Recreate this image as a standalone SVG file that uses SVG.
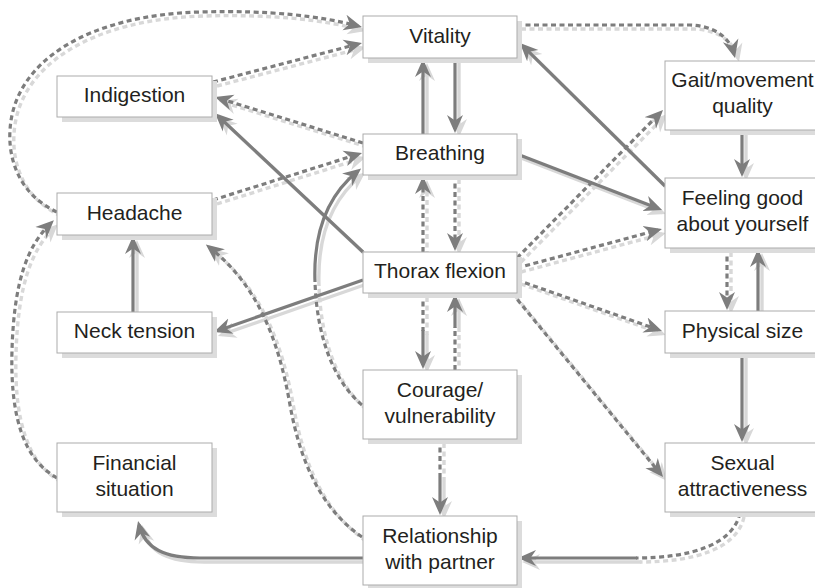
<svg xmlns="http://www.w3.org/2000/svg" xmlns:xlink="http://www.w3.org/1999/xlink" width="815" height="588" viewBox="0 0 815 588">
<style>
.box rect.bg{fill:#ffffff;stroke:#ababab;stroke-width:1}
.box rect.sh{fill:#dcdcdc;stroke:none}
.box text{font-family:"Liberation Sans",Arial,Helvetica,sans-serif;font-size:21px;fill:#231f20;text-anchor:middle}
.dark{stroke:#7d7d7d;stroke-width:3.2;fill:none;marker-end:url(#aD)}
.light{stroke:#d8d8d8;stroke-width:3.4;fill:none;marker-end:url(#aL)}
.d{stroke-dasharray:5 3.5}
</style>
<defs>
<marker id="aD" markerUnits="userSpaceOnUse" markerWidth="19" markerHeight="17" viewBox="0 0 19 17" refX="14" refY="8.5" orient="auto">
<path d="M0,0.5 L18,8.5 L0,16.5 L5.5,8.5 Z" fill="#7d7d7d" stroke="none"/>
</marker>
<marker id="aL" markerUnits="userSpaceOnUse" markerWidth="19" markerHeight="17" viewBox="0 0 19 17" refX="14" refY="8.5" orient="auto">
<path d="M0,0.5 L18,8.5 L0,16.5 L5.5,8.5 Z" fill="#d8d8d8" stroke="none"/>
</marker>
</defs>
<rect width="815" height="588" fill="#ffffff"/>

<g id="connectors">
<use xlink:href="#edges" href="#edges" class="light" transform="translate(4,4)"/>
<g class="dark">
<g id="edges">
<path d="M455,58 L455,129"/>
<path d="M423,134 L423,63"/>
<path class="d" d="M213,82 L358.1,44"/>
<path class="d" d="M57,212 C20,195 8,160 10,130 C14,60 90,15 200,12 C270,10 320,16 358,26"/>
<path class="d" d="M363,143 L218.8,98.2"/>
<path d="M363,252 L218,116"/>
<path class="d" d="M213,200 L358.2,154.2"/>
<path class="d" marker-end="none" d="M362,405 C335,382 317,340 315,282"/>
<path d="M315,282 C313,230 328,195 358,171"/>
<path class="d" d="M362,537 C320,508 300,460 290,405 C278,335 255,283 209,247"/>
<path d="M363,280 L217.7,330.7"/>
<path d="M133,312 L133,240"/>
<path class="d" d="M455,175 L455,247"/>
<path class="d" d="M423,252 L423,180"/>
<path class="d" marker-end="none" d="M423,293 L423,331"/>
<path d="M423,330 L423,365"/>
<path class="d" marker-end="none" d="M455,370 L455,327"/>
<path d="M455,328 L455,298"/>
<path class="d" marker-end="none" d="M440,439 L440,479"/>
<path d="M440,478 L440,511"/>
<path d="M363,558 L200,558 C165,558 145,549 139,525"/>
<path class="d" marker-end="none" d="M740,513 C733,545 690,558 636,558"/>
<path d="M637,558 L522,558"/>
<path class="d" d="M57,478 C25,460 10,420 12,350 C14,280 28,245 51,223"/>
<path class="d" d="M517,25 L690,25 C715,26 730,38 734,54"/>
<path d="M665,186 L522.8,45.8"/>
<path d="M517,154 L658.3,208.6"/>
<path class="d" d="M517,258 L660.2,112.8"/>
<path class="d" d="M517,268 L658.1,230"/>
<path class="d" d="M517,280 L658.2,329.7"/>
<path class="d" d="M512,293 L660.5,473.9"/>
<path d="M742,130 L742,173"/>
<path class="d" d="M727,248 L727,306"/>
<path d="M758,311 L758,253"/>
<path d="M742,353 L742,438"/>
</g>
</g>
</g>

<g id="n-vitality" class="box"><rect class="sh" x="368" y="21" width="154" height="42"/><rect class="bg" x="363" y="16" width="154" height="42"/><text x="440" y="42.5">Vitality</text></g>
<g id="n-indigestion" class="box"><rect class="sh" x="62" y="81" width="155" height="41"/><rect class="bg" x="57" y="76" width="155" height="41"/><text x="134.5" y="102">Indigestion</text></g>
<g id="n-gait" class="box"><rect class="sh" x="670" y="66" width="155" height="69"/><rect class="bg" x="665" y="61" width="155" height="69"/><text x="742.5" y="87">Gait/movement</text><text x="742.5" y="113">quality</text></g>
<g id="n-breathing" class="box"><rect class="sh" x="368" y="139" width="154" height="41"/><rect class="bg" x="363" y="134" width="154" height="41"/><text x="440" y="160">Breathing</text></g>
<g id="n-feeling" class="box"><rect class="sh" x="670" y="183" width="155" height="70"/><rect class="bg" x="665" y="178" width="155" height="70"/><text x="742.5" y="205">Feeling good</text><text x="742.5" y="231">about yourself</text></g>
<g id="n-headache" class="box"><rect class="sh" x="62" y="198" width="155" height="42"/><rect class="bg" x="57" y="193" width="155" height="42"/><text x="134.5" y="219.5">Headache</text></g>
<g id="n-thorax" class="box"><rect class="sh" x="368" y="257" width="154" height="41"/><rect class="bg" x="363" y="252" width="154" height="41"/><text x="440" y="278">Thorax flexion</text></g>
<g id="n-neck" class="box"><rect class="sh" x="62" y="317" width="155" height="41"/><rect class="bg" x="57" y="312" width="155" height="41"/><text x="134.5" y="338">Neck tension</text></g>
<g id="n-physical" class="box"><rect class="sh" x="670" y="316" width="155" height="42"/><rect class="bg" x="665" y="311" width="155" height="42"/><text x="742.5" y="337.5">Physical size</text></g>
<g id="n-courage" class="box"><rect class="sh" x="368" y="375" width="154" height="69"/><rect class="bg" x="363" y="370" width="154" height="69"/><text x="440" y="396.5">Courage/</text><text x="440" y="422.5">vulnerability</text></g>
<g id="n-financial" class="box"><rect class="sh" x="62" y="448" width="155" height="69"/><rect class="bg" x="57" y="443" width="155" height="69"/><text x="134.5" y="469.5">Financial</text><text x="134.5" y="495.5">situation</text></g>
<g id="n-sexual" class="box"><rect class="sh" x="670" y="448" width="155" height="69"/><rect class="bg" x="665" y="443" width="155" height="69"/><text x="742.5" y="469.5">Sexual</text><text x="742.5" y="495.5">attractiveness</text></g>
<g id="n-relationship" class="box"><rect class="sh" x="368" y="521" width="154" height="69"/><rect class="bg" x="363" y="516" width="154" height="69"/><text x="440" y="542.5">Relationship</text><text x="440" y="568.5">with partner</text></g>
</svg>
